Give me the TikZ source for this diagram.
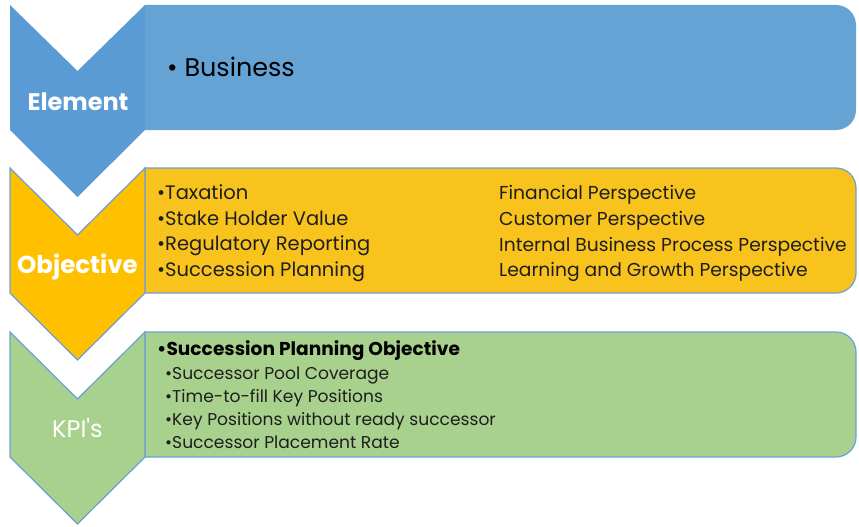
\documentclass[tikz,border=0pt]{standalone}
\usepackage{fontspec}
\setmainfont{Poppins}
\definecolor{chevblue}{HTML}{5B9BD5}
\definecolor{boxblue}{HTML}{65A3D5}
\definecolor{chevorange}{HTML}{FFC000}
\definecolor{boxorange}{HTML}{F9C31E}
\definecolor{chevgreen}{HTML}{A9D18E}
\definecolor{boxgreen}{HTML}{A9D18E}
\definecolor{edgeblue}{HTML}{6A9FD8}
\definecolor{txt}{HTML}{1E1E1E}
\tikzset{
  chev/.style={line width=1.2pt, draw=edgeblue, line join=miter},
  lbl/.style={anchor=base, inner sep=0pt, text=white},
  itm/.style={anchor=base west, inner sep=0pt, text=txt},
}
\begin{document}
\begin{tikzpicture}[x=1pt,y=-1pt]
\useasboundingbox (0,0) rectangle (859,527);
% --- blue row
\fill[boxblue] (145,130) -- (145,5) -- (700,5) [rounded corners=20] -- (856,5) -- (856,130) -- (700,130) [sharp corners] -- (145,130) -- cycle;
\fill[chevblue] (10,5) -- (77.5,71) -- (145,5) -- (145,130) -- (77.5,197) -- (10,130) -- cycle;
% --- orange row
\filldraw[boxorange, draw=edgeblue, line width=1.2pt] (145,293) -- (145,168) -- (700,168) [rounded corners=20] -- (856,168) -- (856,293) -- (700,293) [sharp corners] -- (145,293) -- cycle;
\filldraw[chev, fill=chevorange] (10,168) -- (77.5,235) -- (145,168) -- (145,293) -- (77.5,360) -- (10,293) -- cycle;
% --- green row
\filldraw[boxgreen, draw=edgeblue, line width=1.2pt] (145,457) -- (145,332) -- (700,332) [rounded corners=20] -- (856,332) -- (856,457) -- (700,457) [sharp corners] -- (145,457) -- cycle;
\filldraw[chev, fill=chevgreen] (10,332) -- (77.5,399) -- (145,332) -- (145,457) -- (77.5,524) -- (10,457) -- cycle;
% --- chevron labels
\node[lbl, font=\fontsize{24}{24}\selectfont\bfseries] (element) at (78,110) {Element};
\node[lbl, font=\fontsize{24.5}{24.5}\selectfont\bfseries] (objective) at (77.5,273) {Objective};
\node[lbl, font=\fontsize{24}{24}\selectfont] (kpis) at (77.5,437) {KPI\textquotesingle s};
% --- blue content
\node[itm, font=\fontsize{25.5}{25.5}\selectfont, text=black] (business) at (167,76) {\textbullet\ Business};
% --- orange content
\begin{scope}[every node/.style={itm, font=\fontsize{19.5}{19.5}\selectfont}]
\node (o1) at (157,199) {\textbullet Taxation};
\node (o2) at (157,225) {\textbullet Stake Holder Value};
\node (o3) at (157,250.5) {\textbullet Regulatory Reporting};
\node (o4) at (157,276) {\textbullet Succession Planning};
\end{scope}
\begin{scope}[every node/.style={itm, font=\fontsize{18.7}{18.7}\selectfont}]
\node (p1) at (499,199.5) {Financial Perspective};
\node (p2) at (499,225.5) {Customer Perspective};
\node (p3) at (499,251) {Internal Business Process Perspective};
\node (p4) at (499,276.5) {Learning and Growth Perspective};
\end{scope}
% --- green content
\node[itm, font=\fontsize{18.6}{18.6}\selectfont\bfseries, text=black] (g0) at (157,355) {\textbullet Succession Planning Objective};
\begin{scope}[every node/.style={itm, font=\fontsize{17.1}{17.1}\selectfont}]
\node (g1) at (165,379) {\textbullet Successor Pool Coverage};
\node (g2) at (165,402) {\textbullet Time-to-fill Key Positions};
\node (g3) at (165,425.5) {\textbullet Key Positions without ready successor};
\node (g4) at (165,448) {\textbullet Successor Placement Rate};
\end{scope}
\end{tikzpicture}
\end{document}
